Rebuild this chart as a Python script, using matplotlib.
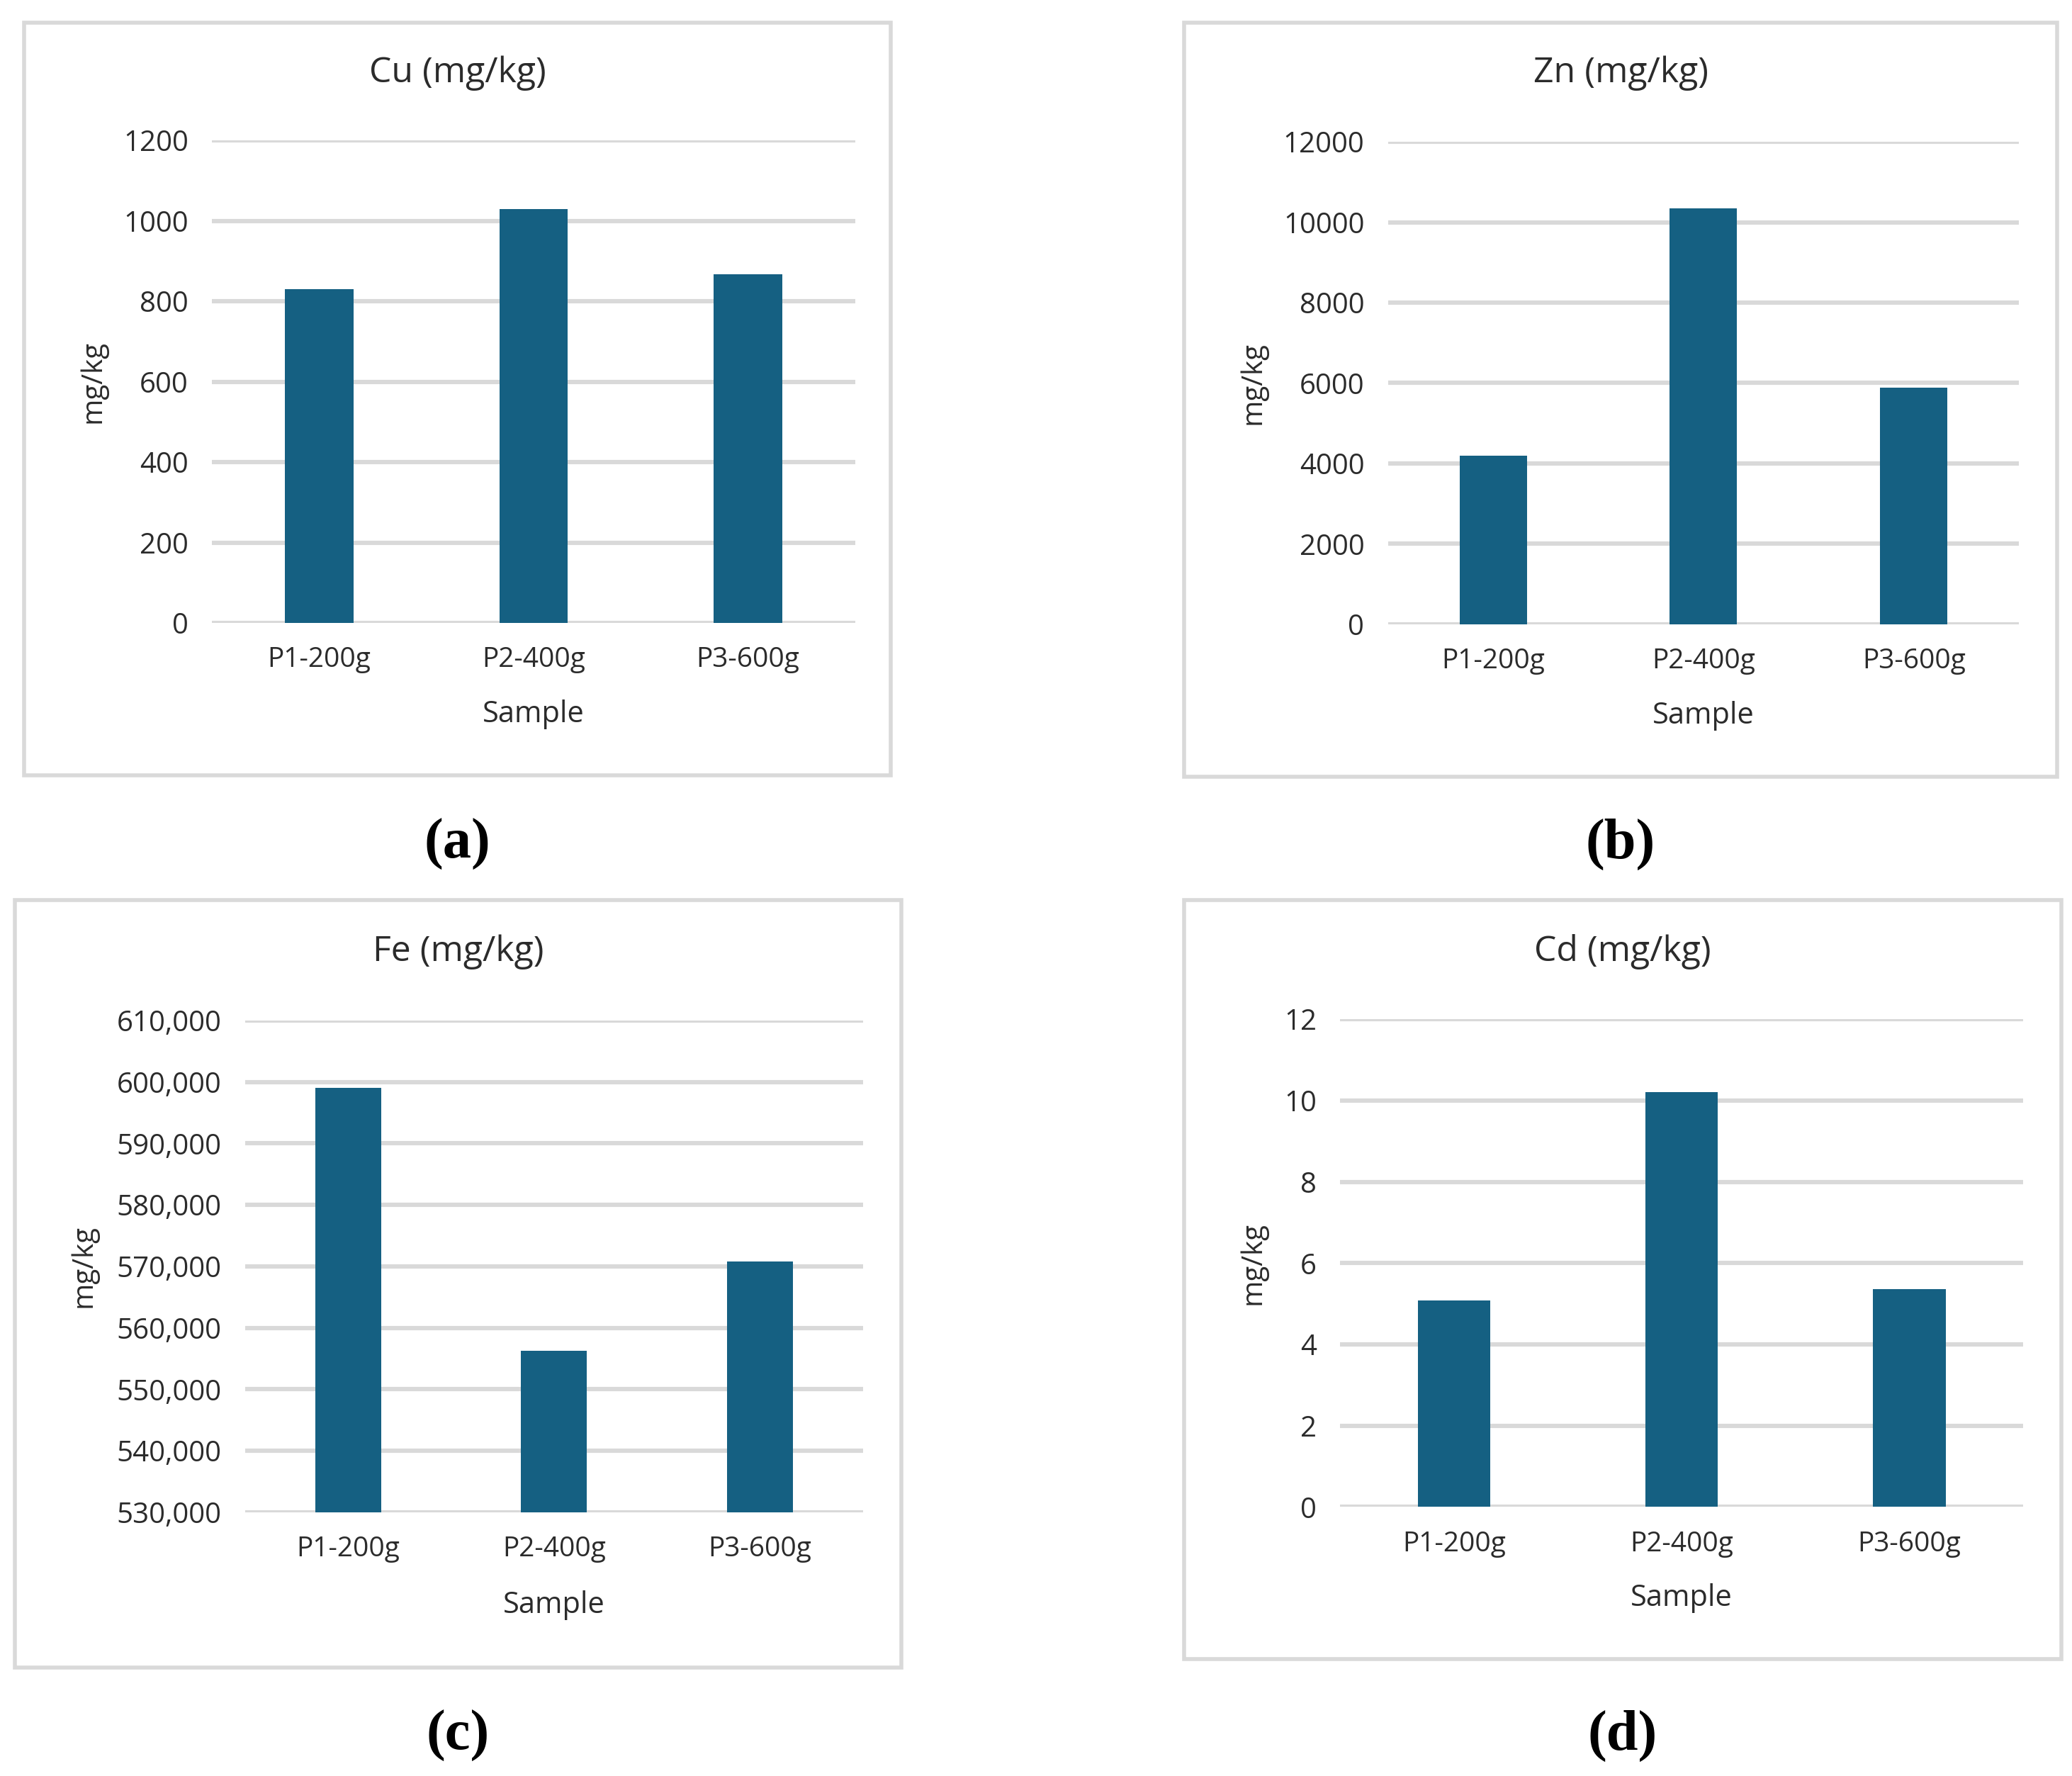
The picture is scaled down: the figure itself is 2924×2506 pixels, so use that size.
import matplotlib
matplotlib.use('Agg')
import matplotlib.pyplot as plt
from matplotlib.patches import Rectangle
from matplotlib.ticker import StrMethodFormatter

plt.rcParams['font.family'] = ['Open Sans', 'DejaVu Sans']

samples = ['P1-200g', 'P2-400g', 'P3-600g']
cu = [831, 1030, 867]
zn = [4200, 10350, 5890]
fe = [599000, 556300, 570800]
cd = [5.08, 10.2, 5.36]

titles = ['Cu (mg/kg)', 'Zn (mg/kg)', 'Fe (mg/kg)', 'Cd (mg/kg)']
letters = ['(a)', '(b)', '(c)', '(d)']
ylims = [(0, 1200), (0, 12000), (530000, 610000), (0, 12)]
ysteps = [200, 2000, 10000, 2]

BAR = '#156082'
GRID = '#D9D9D9'
TXT = '#2b2b2b'
W, H = 1563.0, 1340.0   # layout measured on a 1563x1340 view of the target

# box (x0, y0, x1, y1), axes (x0, x1, ytop, ybot), title y, ylabel x, sample y, letter y
layout = [
    ((18, 17, 672, 585), (160, 645, 106, 470), 55, 70, 539, 637),
    ((893, 17, 1552, 586), (1047, 1523, 107, 471), 55, 945, 540, 637),
    ((11, 679, 680, 1258), (185, 651, 770, 1141), 718, 63, 1211, 1310),
    ((893, 679, 1555, 1252), (1011, 1526, 769, 1137), 718, 945, 1206, 1310),
]

fig = plt.figure(figsize=(14.62, 12.53), dpi=200)

def fx(x):
    return x / W

def fy(y):
    return 1 - y / H

for i, vals in enumerate([cu, zn, fe, cd]):
    box, axr, ty, ylx, sy, ly = layout[i]
    bx0, by0, bx1, by1 = box
    fig.add_artist(Rectangle((fx(bx0), fy(by1)), fx(bx1) - fx(bx0), fy(by0) - fy(by1),
                             transform=fig.transFigure, fill=False, ec=GRID, lw=2.0))
    ax0, ax1, atop, abot = axr
    ax = fig.add_axes([fx(ax0), fy(abot), fx(ax1) - fx(ax0), fy(atop) - fy(abot)])
    lo, hi = ylims[i]
    ax.bar(range(3), [v - lo for v in vals], bottom=lo, width=0.32, color=BAR, zorder=3)
    ax.set_xlim(-0.5, 2.5)
    ax.set_ylim(lo, hi)
    ax.set_yticks(range(lo, int(hi) + 1, ysteps[i]))
    if i == 2:
        ax.yaxis.set_major_formatter(StrMethodFormatter('{x:,.0f}'))
    ax.set_xticks(range(3))
    ax.set_xticklabels(samples)
    for s in ax.spines.values():
        s.set_visible(False)
    ax.yaxis.grid(True, color=GRID, lw=2.2, zorder=0)
    ax.set_axisbelow(True)
    ax.tick_params(length=0, labelsize=14.5, labelcolor=TXT)
    ax.tick_params(axis='y', pad=12)
    ax.tick_params(axis='x', labelsize=14, pad=12)
    ax.set_facecolor('none')
    bc = (bx0 + bx1) / 2
    fig.text(fx(bc), fy(ty), titles[i], ha='center', va='center', fontsize=18, color=TXT)
    fig.text(fx(ylx), fy((atop + abot) / 2), 'mg/kg', rotation=90, ha='center', va='center',
             fontsize=14.5, color=TXT)
    fig.text(fx((ax0 + ax1) / 2), fy(sy), 'Sample', ha='center', va='center', fontsize=15,
             color=TXT)
    fig.text(fx(bc), fy(ly), letters[i], ha='center', va='center', fontsize=29,
             fontweight='bold', family='Liberation Serif', color='black')

fig.savefig('out.png', dpi=200)
